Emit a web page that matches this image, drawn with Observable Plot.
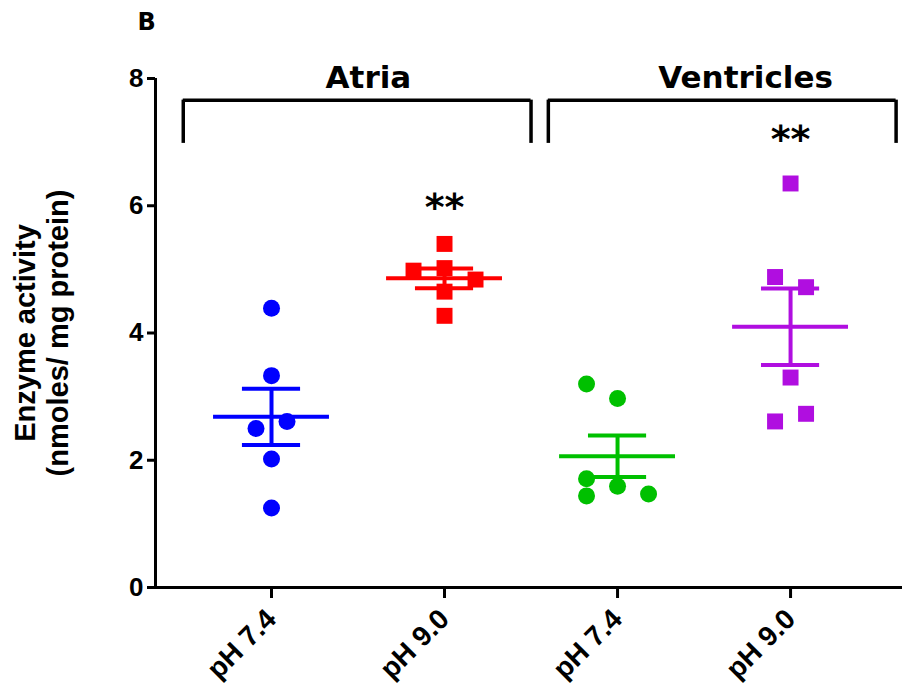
<!DOCTYPE html>
<html>
<head>
<meta charset="utf-8">
<script src="https://cdn.jsdelivr.net/npm/d3@7"></script>
<script src="https://cdn.jsdelivr.net/npm/@observablehq/plot@0.6"></script>
<style>
  html, body { margin: 0; padding: 0; background: #fff; }
  #chart { width: 902px; height: 696px; }
  svg { font-family: "Liberation Sans", Arial, sans-serif; }
</style>
</head>
<body>
<div id="chart"></div>
<script>
// ---- Data ----
const xLabels = ["pH 7.4", "pH 9.0", "pH 7.4", "pH 9.0"];
const groupColors = ["#0000ff", "#ff0000", "#00c000", "#b00ee0"];
const groupSymbols = ["circle", "square", "circle", "square"];

const atria74 = [4.39, 3.33, 2.50, 2.61, 2.02, 1.25];
const atria90 = [5.40, 4.98, 5.02, 4.84, 4.65, 4.27];
const ventr74 = [3.20, 2.97, 1.71, 1.59, 1.44, 1.47];
const ventr90 = [6.35, 4.88, 4.72, 3.30, 2.61, 2.73];

// scatter column slot of each point (GraphPad-style spread)
const atria74Slot = [0, 0, -1, 1, 0, 0];
const atria90Slot = [0, -2, 0, 2, 0, 0];
const ventr74Slot = [-2, 0, -2, 0, -2, 2];
const ventr90Slot = [0, -1, 1, 0, -1, 1];

const groupNames = ["Atria", "Ventricles"];
const bracketX1 = [-0.51, 1.60];
const bracketX2 = [1.50, 3.61];
const bracketTop = 7.66;
const bracketBottom = 6.98;
const groupLabelX = [0.56, 2.74];
const groupLabelY = 8.0;

const sigLabels = ["**", "**"];
const sigX = [1, 3];
const sigY = [5.97, 7.03];

const yTicks = [0, 2, 4, 6, 8];
const yTitle = "Enzyme activity\n(nmoles/ mg protein)";
const panelLabel = "B";

// ---- Build tables ----
const seriesValues = [atria74, atria90, ventr74, ventr90];
const seriesSlots = [atria74Slot, atria90Slot, ventr74Slot, ventr90Slot];
const slotWidth = 0.0896;
const points = [];
seriesValues.forEach((vals, g) => vals.forEach((v, k) => points.push({g, v, x: g + seriesSlots[g][k] * slotWidth})));
const circlePts = points.filter(d => groupSymbols[d.g] === "circle");
const squarePts = points.filter(d => groupSymbols[d.g] === "square");

const stats = seriesValues.map((vals, g) => {
  const m = d3.mean(vals);
  const sem = d3.deviation(vals) / Math.sqrt(vals.length);
  return {g, mean: m, lo: m - sem, hi: m + sem};
});
const meanHalf = 0.335, capHalf = 0.168;

const brackets = groupNames.map((n, i) => ({n, x1: bracketX1[i], x2: bracketX2[i]}));

const xDomain = [-0.6705, 3.647];

const plot = Plot.plot({
  width: 902,
  height: 696,
  marginLeft: 155,
  marginRight: 0,
  marginTop: 78,
  marginBottom: 109,
  style: {fontFamily: "Liberation Sans, Arial, sans-serif", fontWeight: "bold", color: "#000", background: "#fff"},
  x: {domain: xDomain, axis: null},
  y: {domain: [0, 8], axis: null},
  color: {type: "identity"},
  marks: [
    // axes lines
    Plot.ruleX([xDomain[0]], {y1: 0, y2: 8, stroke: "#000", strokeWidth: 3}),
    Plot.ruleY([0], {stroke: "#000", strokeWidth: 3}),
    Plot.axisY({ticks: yTicks, tickSize: 8, tickPadding: 4, strokeWidth: 3, fontSize: 26, fontWeight: "bold", label: null}),
    Plot.axisX({ticks: [0, 1, 2, 3], tickFormat: i => xLabels[i], tickSize: 11, strokeWidth: 3,
      tickRotate: -45, tickPadding: 16, fontSize: 28, fontWeight: "bold", letterSpacing: 1.5, label: null}),
    // y title
    Plot.text([yTitle], {frameAnchor: "left", textAnchor: "middle", dx: -115, rotate: -90, fontSize: 29, fontWeight: "bold",
      letterSpacing: 2.5, lineHeight: 1.15, text: d => d}),
    // panel label
    Plot.text([panelLabel], {frameAnchor: "top-left", dx: -18, dy: -66, fontSize: 24, fontWeight: "bold", fontFamily: "DejaVu Sans", text: d => d}),
    // brackets
    Plot.ruleY(brackets, {x1: "x1", x2: "x2", y: bracketTop, stroke: "#000", strokeWidth: 3.5}),
    Plot.ruleX(brackets, {x: "x1", y1: bracketBottom, y2: bracketTop, stroke: "#000", strokeWidth: 3.5}),
    Plot.ruleX(brackets, {x: "x2", y1: bracketBottom, y2: bracketTop, stroke: "#000", strokeWidth: 3.5}),
    Plot.text(groupNames, {x: (d, i) => groupLabelX[i], y: groupLabelY, text: d => d, fontSize: 31, fontWeight: "bold", fontFamily: "DejaVu Sans"}),
    Plot.text(sigLabels, {x: (d, i) => sigX[i], y: (d, i) => sigY[i], text: d => d, fontSize: 38, fontWeight: "bold", fontFamily: "DejaVu Sans", letterSpacing: 5}),
    // points
    Plot.dot(circlePts, {x: "x", y: "v", symbol: "circle", fill: d => groupColors[d.g], r: 8.5}),
    Plot.dot(squarePts, {x: "x", y: "v", symbol: "square", fill: d => groupColors[d.g], r: 9}),
    // mean & SEM
    Plot.ruleY(stats, {x1: d => d.g - meanHalf, x2: d => d.g + meanHalf, y: "mean", stroke: d => groupColors[d.g], strokeWidth: 4}),
    Plot.ruleY(stats, {x1: d => d.g - capHalf, x2: d => d.g + capHalf, y: "hi", stroke: d => groupColors[d.g], strokeWidth: 4}),
    Plot.ruleY(stats, {x1: d => d.g - capHalf, x2: d => d.g + capHalf, y: "lo", stroke: d => groupColors[d.g], strokeWidth: 4}),
    Plot.ruleX(stats, {x: "g", y1: "lo", y2: "hi", stroke: d => groupColors[d.g], strokeWidth: 4})
  ]
});
document.getElementById("chart").appendChild(plot);
</script>
</body>
</html>
